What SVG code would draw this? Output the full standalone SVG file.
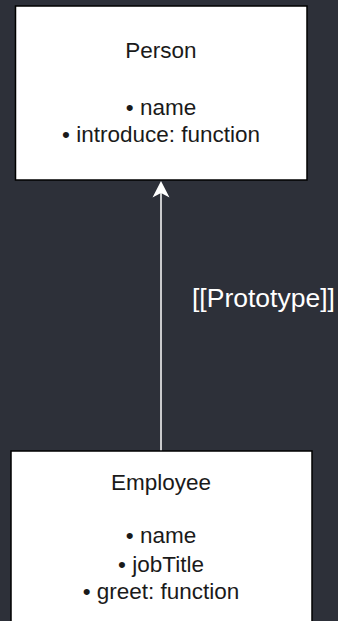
<svg xmlns="http://www.w3.org/2000/svg" width="338" height="621" viewBox="0 0 338 621">
<style>
.box{fill:#ffffff;stroke:#000000;stroke-width:1.5}
.t{font-family:"Liberation Sans",Arial,sans-serif;font-size:22.5px;fill:#1a1a1a;text-anchor:middle}
.lbl{font-family:"Liberation Sans",Arial,sans-serif;font-size:26.5px;fill:#ffffff}
</style>
<defs>
<marker id="arr" viewBox="0 0 20 20" refX="0" refY="10" markerWidth="20" markerHeight="20" markerUnits="userSpaceOnUse" orient="auto">
<path d="M0,10 L17,1.5 L13,10 L17,18.5 Z" fill="#ffffff"/>
</marker>
</defs>
<rect width="338" height="621" fill="#2d3039"/>
<g id="connectors">
<line x1="161" y1="451" x2="161" y2="190" stroke="#ffffff" stroke-width="1.5"/>
<path d="M161,181 L152.5,197.5 L161,193 L169.5,197.5 Z" fill="#ffffff"/>
<text class="lbl" x="192" y="307">[[Prototype]]</text>
</g>
<g id="person">
<rect class="box" x="15.5" y="6" width="291.5" height="174"/>
<text class="t" x="161" y="58">Person</text>
<text class="t" x="161" y="115">• name</text>
<text class="t" x="161" y="142">• introduce: function</text>
</g>
<g id="employee">
<rect class="box" x="11" y="451" width="301" height="180"/>
<text class="t" x="161" y="490">Employee</text>
<text class="t" x="161" y="543">• name</text>
<text class="t" x="161" y="572">• jobTitle</text>
<text class="t" x="161" y="599">• greet: function</text>
</g>
</svg>
